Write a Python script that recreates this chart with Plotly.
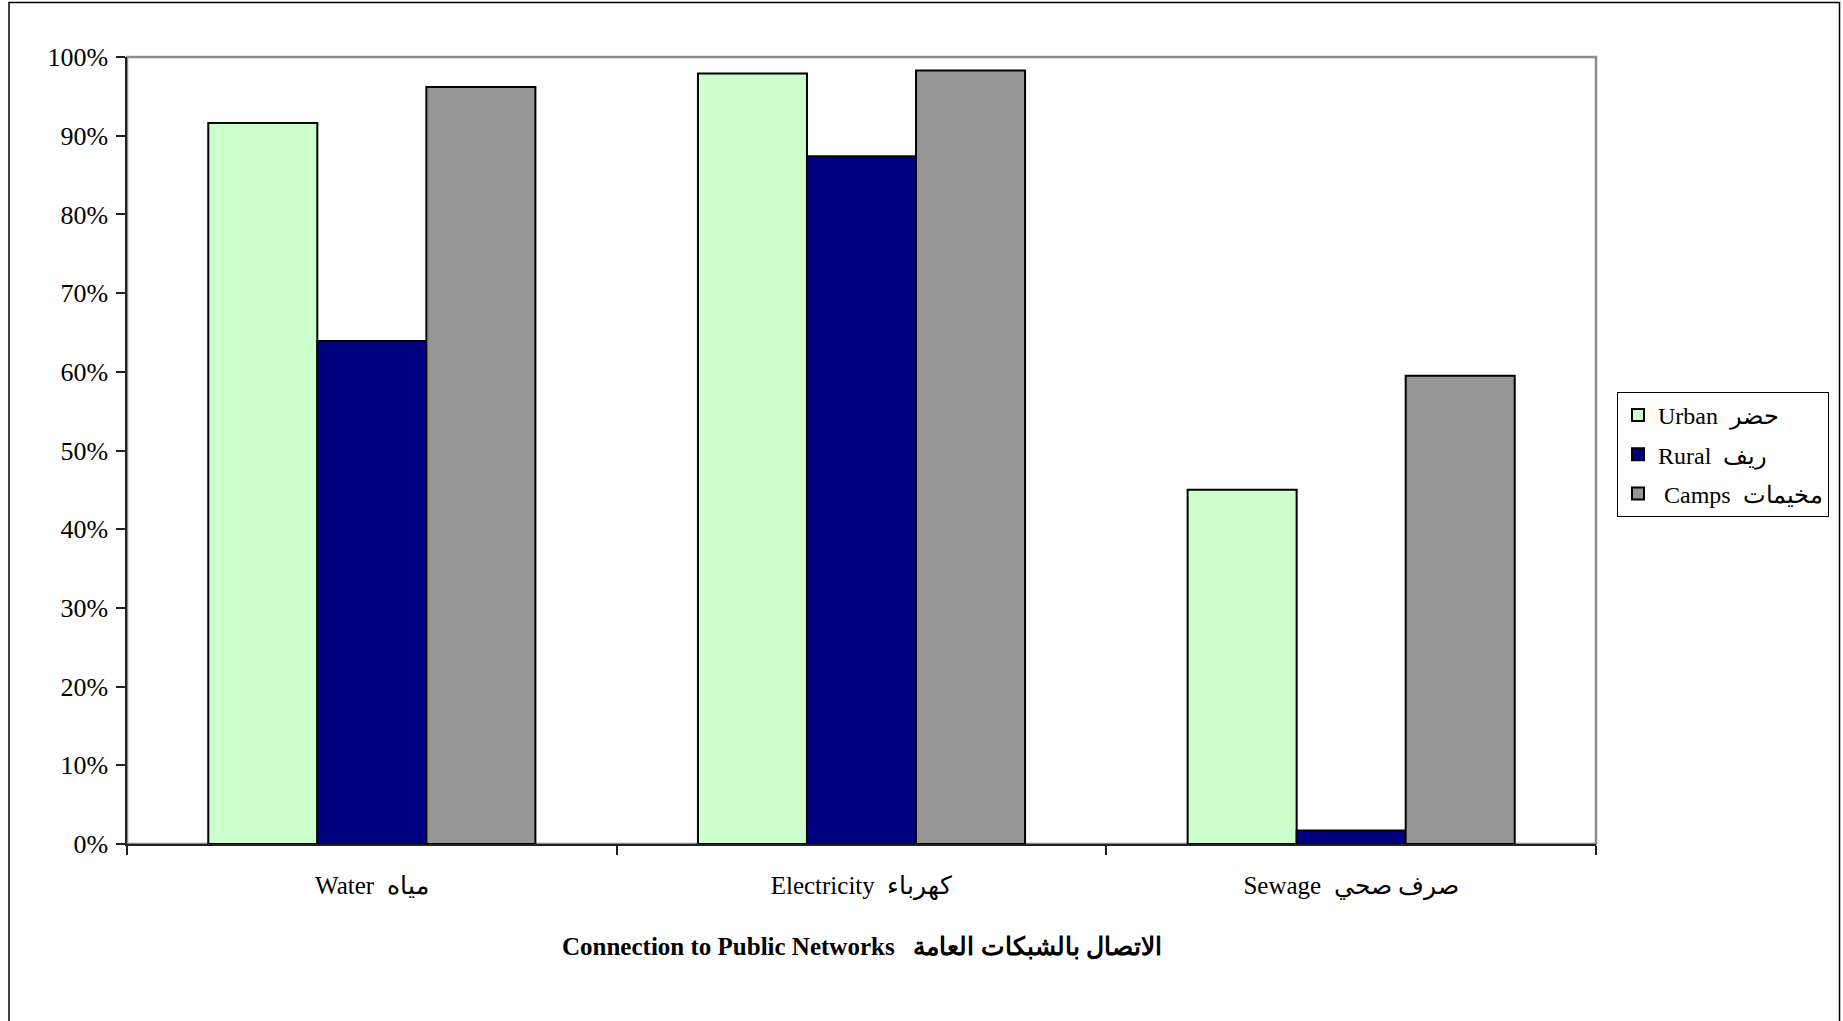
import plotly.graph_objects as go

categories = ["Water  مياه", "Electricity  كهرباء", "Sewage  صرف صحي"]
series_names = ["Urban  حضر", "Rural  ريف", " Camps  مخيمات"]
urban = [91.6, 97.9, 45.0]
rural = [63.9, 87.4, 1.7]
camps = [96.2, 98.3, 59.5]
colors = ["#CCFFCC", "#000080", "#969696"]
tick_vals = [0, 10, 20, 30, 40, 50, 60, 70, 80, 90, 100]
tick_text = [f"{v}%" for v in tick_vals]
title_text = "<b>Connection to Public Networks   الاتصال بالشبكات العامة</b>"

FONT = "Liberation Serif, Times New Roman, DejaVu Serif, serif"

W, H = 1843, 1021
L, R, T, B = 127, 1596, 57, 844
pw, ph = R - L, B - T

fig = go.Figure()
for i, (name, vals) in enumerate(zip(series_names, [urban, rural, camps])):
    fig.add_trace(go.Bar(
        x=categories, y=vals, name=name,
        marker=dict(color=colors[i], line=dict(color="black", width=2)),
        legendgroup=str(i),
    ))

def px_x(p):
    return (p - L) / pw

def px_y(p):
    return (B - p) / ph

shapes = [
    dict(type="rect", xref="paper", yref="paper", x0=0, x1=1, y0=0, y1=1,
         line=dict(color="#8c8c8c", width=2.5), layer="below"),
    dict(type="rect", xref="paper", yref="paper",
         x0=px_x(9), x1=px_x(1839.5), y0=px_y(1060), y1=px_y(2.5),
         line=dict(color="black", width=1.5), layer="below"),
]

fig.update_layout(
    width=W, height=H,
    margin=dict(l=L, r=W - R, t=T, b=H - B, pad=0),
    paper_bgcolor="white", plot_bgcolor="white",
    barmode="group", bargap=0.332, bargroupgap=0,
    font=dict(family=FONT, size=25, color="black"),
    showlegend=True,
    legend=dict(
        x=px_x(1617), y=px_y(392), xanchor="left", yanchor="top",
        bordercolor="black", borderwidth=1, bgcolor="white",
        font=dict(family=FONT, size=24, color="black"),
        tracegroupgap=5, traceorder="grouped",
        itemwidth=30,
    ),
    shapes=shapes,
    annotations=[dict(
        text=title_text, xref="paper", yref="paper",
        x=0.5, y=px_y(946), xanchor="center", yanchor="middle",
        showarrow=False, font=dict(family=FONT, size=25, color="black"),
    )],
)

fig.update_xaxes(
    showline=True, linecolor="#222222", linewidth=1.5,
    ticks="outside", ticklen=9, tickcolor="#222222", tickwidth=1.5,
    tickson="boundaries", showgrid=False,
    ticklabelstandoff=18,
    tickfont=dict(family=FONT, size=25, color="black"),
)
fig.update_yaxes(
    range=[0, 100], tickvals=tick_vals, ticktext=tick_text,
    showline=True, linecolor="#222222", linewidth=1.5,
    ticks="outside", ticklen=9, tickcolor="#222222", tickwidth=1.5,
    showgrid=False, zeroline=False,
    ticklabelstandoff=3,
    tickfont=dict(family=FONT, size=26, color="black"),
)

fig.write_html(
    "out.html",
    config={"displayModeBar": False},
    post_script="document.body.style.margin='0';document.body.style.overflow='hidden';",
)
